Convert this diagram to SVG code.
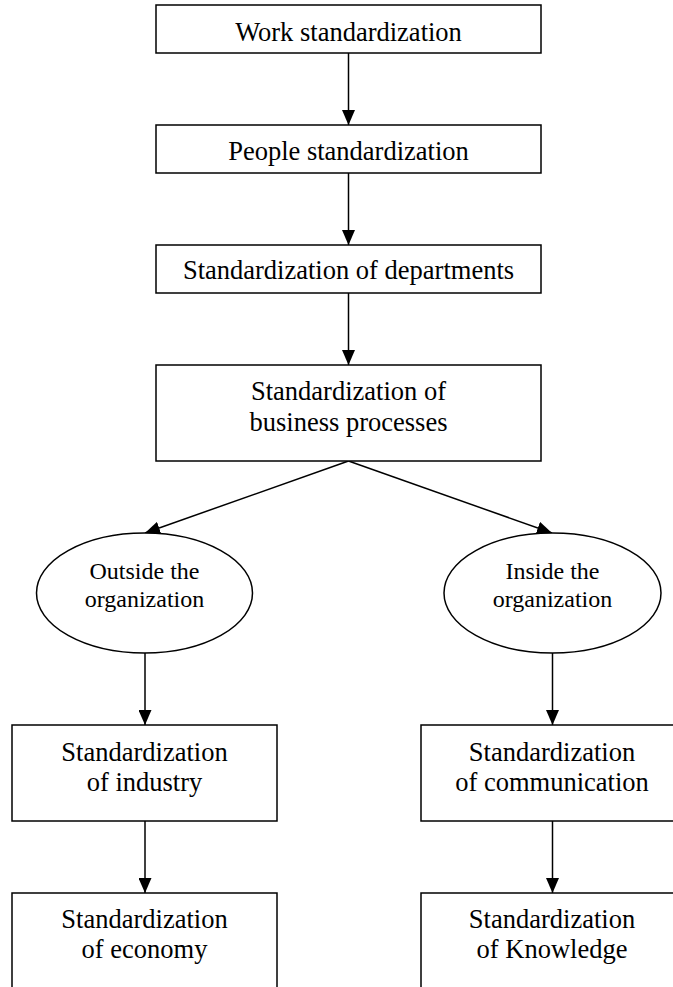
<svg xmlns="http://www.w3.org/2000/svg" width="673" height="987" viewBox="0 0 673 987">
<style>
.box{fill:#fff;stroke:#000;stroke-width:1.5}
.t{font-family:"Liberation Serif","Times New Roman",serif;font-size:26.5px;fill:#000;text-anchor:middle}
.te{font-family:"Liberation Serif","Times New Roman",serif;font-size:24px;fill:#000;text-anchor:middle}
.c{stroke:#000;stroke-width:1.5;fill:none;marker-end:url(#ah)}
</style>
<defs>
<marker id="ah" viewBox="0 0 15 13" refX="15" refY="6.5" markerWidth="15" markerHeight="13" markerUnits="userSpaceOnUse" orient="auto">
<path d="M0,0 L15,6.5 L0,13 z" fill="#000"/>
</marker>
</defs>
<rect width="673" height="987" fill="#fff"/>
<g id="connectors">
<line class="c" x1="348.5" y1="53" x2="348.5" y2="125"/>
<line class="c" x1="348.5" y1="173" x2="348.5" y2="245"/>
<line class="c" x1="348.5" y1="293" x2="348.5" y2="365"/>
<line class="c" x1="348.5" y1="461" x2="145" y2="533"/>
<line class="c" x1="348.5" y1="461" x2="552" y2="533"/>
<line class="c" x1="145" y1="653" x2="145" y2="725"/>
<line class="c" x1="552.5" y1="653" x2="552.5" y2="725"/>
<line class="c" x1="145" y1="821" x2="145" y2="893"/>
<line class="c" x1="552.5" y1="821" x2="552.5" y2="893"/>
</g>
<g id="work">
<rect class="box" x="156" y="5" width="385" height="48"/>
<text class="t" x="348.5" y="41">Work standardization</text>
</g>
<g id="people">
<rect class="box" x="156" y="125" width="385" height="48"/>
<text class="t" x="348.5" y="160">People standardization</text>
</g>
<g id="departments">
<rect class="box" x="156" y="245" width="385" height="48"/>
<text class="t" x="348.5" y="279">Standardization of departments</text>
</g>
<g id="business">
<rect class="box" x="156" y="365" width="385" height="96"/>
<text class="t" x="348.5" y="400">Standardization of</text>
<text class="t" x="348.5" y="431">business processes</text>
</g>
<g id="outside">
<ellipse class="box" cx="144.5" cy="593" rx="108" ry="60"/>
<text class="te" x="144.5" y="579">Outside the</text>
<text class="te" x="144.5" y="607">organization</text>
</g>
<g id="inside">
<ellipse class="box" cx="552.5" cy="593" rx="108.5" ry="60"/>
<text class="te" x="552.5" y="579">Inside the</text>
<text class="te" x="552.5" y="607">organization</text>
</g>
<g id="industry">
<rect class="box" x="12" y="725" width="265" height="96"/>
<text class="t" x="144.5" y="761">Standardization</text>
<text class="t" x="144.5" y="791">of industry</text>
</g>
<g id="communication">
<rect class="box" x="421" y="725" width="262" height="96"/>
<text class="t" x="552" y="761">Standardization</text>
<text class="t" x="552" y="791">of communication</text>
</g>
<g id="economy">
<rect class="box" x="12" y="893" width="265" height="110"/>
<text class="t" x="144.5" y="928">Standardization</text>
<text class="t" x="144.5" y="958">of economy</text>
</g>
<g id="knowledge">
<rect class="box" x="421" y="893" width="262" height="110"/>
<text class="t" x="552" y="928">Standardization</text>
<text class="t" x="552" y="958">of Knowledge</text>
</g>
</svg>
